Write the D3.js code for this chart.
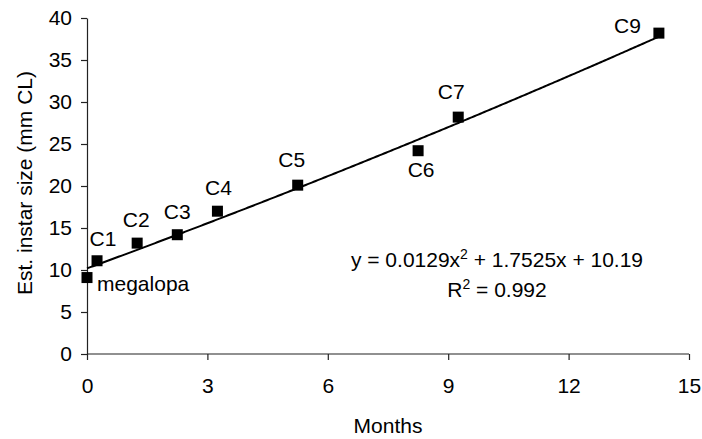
<!DOCTYPE html>
<html><head><meta charset="utf-8">
<script src="https://cdn.jsdelivr.net/npm/d3@7"></script>
<style>body{margin:0;background:#fff}svg{display:block}text{font-family:"Liberation Sans",Arial,sans-serif;fill:#000}</style>
</head><body><svg id="c" width="702" height="439"></svg>
<script>
const labels = ["megalopa","C1","C2","C3","C4","C5","C6","C7","C9"];
const months = [0, 0.25, 1.25, 2.25, 3.25, 5.25, 8.25, 9.25, 14.25];
const sizes  = [9.1, 11.1, 13.2, 14.2, 17.0, 20.1, 24.2, 28.2, 38.2];
const xTicks = [0, 3, 6, 9, 12, 15];
const yTicks = [0, 5, 10, 15, 20, 25, 30, 35, 40];
const fitCoef = [10.19, 1.7525, 0.0129]; // c0, c1, c2
const eqText = "y = 0.0129x";
const r2Text = "0.992";

const svg = d3.select("#c");
const fs = 21;
const x = d3.scaleLinear().domain([0,15]).range([87,689]);
const y = d3.scaleLinear().domain([0,40]).range([354,18]);

const gx = svg.append("g").attr("transform","translate(0,354)")
  .call(d3.axisBottom(x).tickValues(xTicks).tickSize(6).tickSizeOuter(0).tickPadding(18));
const gy = svg.append("g").attr("transform","translate(87,0)")
  .call(d3.axisLeft(y).tickValues(yTicks).tickSize(6).tickSizeOuter(0).tickPadding(9));
[gx,gy].forEach(g=>{
  g.selectAll("path,line").attr("stroke","#222").attr("stroke-width",1.2);
  g.selectAll("text").attr("font-size",fs).attr("font-family","Liberation Sans, Arial, sans-serif").attr("fill","#000");
});
gx.select(".domain").attr("d","M87,0H689");

// trendline from printed equation
const xs = d3.range(0, 14.25+1e-9, 0.05);
const line = d3.line().x(d=>x(d)).y(d=>y(fitCoef[0]+fitCoef[1]*d+fitCoef[2]*d*d));
svg.append("path").attr("d", line(xs)).attr("fill","none").attr("stroke","#000").attr("stroke-width",2);

const pts = months.map((m,i)=>({m, s:sizes[i], l:labels[i]}));
const ms = 11;
svg.selectAll("rect.pt").data(pts).enter().append("rect")
  .attr("x",d=>x(d.m)-ms/2).attr("y",d=>y(d.s)-ms/2).attr("width",ms).attr("height",ms).attr("fill","#000");

const place = {megalopa:[10,13,"start"], C1:[6,-15,"middle"], C2:[-1,-16,"middle"], C3:[0,-16,"middle"],
  C4:[1,-16,"middle"], C5:[-6,-18,"middle"], C6:[3,26,"middle"], C7:[-7,-18,"middle"], C9:[-18,0,"end"]};
svg.selectAll("text.lab").data(pts).enter().append("text")
  .attr("x",d=>x(d.m)+place[d.l][0]).attr("y",d=>y(d.s)+place[d.l][1])
  .attr("text-anchor",d=>place[d.l][2]).attr("font-size",fs).text(d=>d.l);

const eq = svg.append("text").attr("x",497).attr("y",267).attr("text-anchor","middle").attr("font-size",fs);
eq.append("tspan").text(eqText);
eq.append("tspan").attr("dy",-8).attr("font-size",14).text("2");
eq.append("tspan").attr("dy",8).text(" + 1.7525x + 10.19");
const r2 = svg.append("text").attr("x",497).attr("y",297).attr("text-anchor","middle").attr("font-size",fs);
r2.append("tspan").text("R");
r2.append("tspan").attr("dy",-8).attr("font-size",14).text("2");
r2.append("tspan").attr("dy",8).text(" = " + r2Text);

svg.append("text").attr("x",388).attr("y",433).attr("text-anchor","middle").attr("font-size",fs).text("Months");
svg.append("text").attr("transform","translate(32,183) rotate(-90)").attr("text-anchor","middle").attr("font-size",fs).text("Est. instar size (mm CL)");
</script></body></html>
